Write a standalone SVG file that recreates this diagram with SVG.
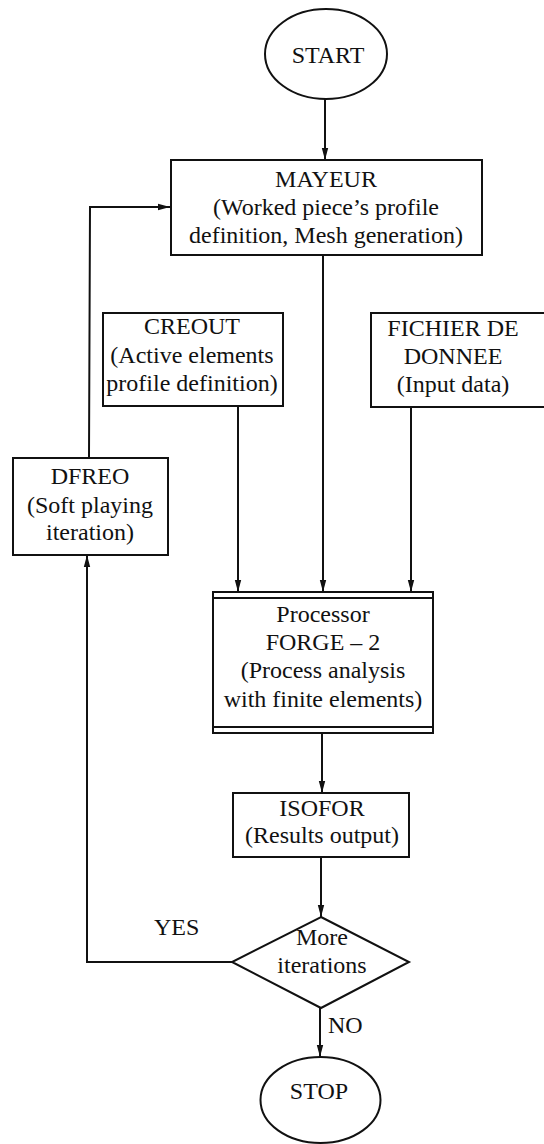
<svg xmlns="http://www.w3.org/2000/svg" width="544" height="1144" viewBox="0 0 544 1144">
<style>
.shape{fill:#fff;stroke:#111;stroke-width:2}
.line{fill:none;stroke:#111;stroke-width:2}
text{font-family:'Liberation Serif','DejaVu Serif',serif;font-size:24px;fill:#111}
.c{text-anchor:middle}
</style>
<defs>
<marker id="arr" markerUnits="userSpaceOnUse" markerWidth="12" markerHeight="8" viewBox="0 0 12 8" refX="12" refY="4" orient="auto">
<path d="M0,0.8 L12,4 L0,7.2 Z" fill="#111"/>
</marker>
</defs>
<rect width="544" height="1144" fill="#fff"/>
<g id="connectors">
<line class="line" x1="325" y1="99" x2="325" y2="160" marker-end="url(#arr)"/>
<line class="line" x1="323" y1="255" x2="323" y2="592" marker-end="url(#arr)"/>
<line class="line" x1="238" y1="406" x2="238" y2="592" marker-end="url(#arr)"/>
<line class="line" x1="411" y1="407" x2="411" y2="592" marker-end="url(#arr)"/>
<line class="line" x1="322" y1="733" x2="322" y2="793" marker-end="url(#arr)"/>
<line class="line" x1="321" y1="857" x2="321" y2="917" marker-end="url(#arr)"/>
<line class="line" x1="320" y1="1008" x2="320" y2="1057" marker-end="url(#arr)"/>
<polyline class="line" points="232,962 87,962 87,555" marker-end="url(#arr)"/>
<polyline class="line" points="89,458 90,207 170,207" marker-end="url(#arr)"/>
<text x="154" y="935" font-family="Liberation Serif, serif">YES</text>
<text x="328" y="1033" font-family="Liberation Serif, serif">NO</text>
</g>
<g id="start">
<ellipse class="shape" cx="326" cy="54" rx="61" ry="45"/>
<text class="c" x="328" y="63">START</text>
</g>
<g id="mayeur">
<rect class="shape" x="171" y="160" width="311" height="95"/>
<text class="c" x="326" y="187">MAYEUR</text>
<text class="c" x="326" y="215">(Worked piece’s profile</text>
<text class="c" x="326" y="243">definition, Mesh generation)</text>
</g>
<g id="creout">
<rect class="shape" x="103" y="313" width="180" height="93"/>
<text class="c" x="192" y="334">CREOUT</text>
<text class="c" x="192" y="363">(Active elements</text>
<text class="c" x="192" y="391">profile definition)</text>
</g>
<g id="fichier">
<rect class="shape" x="371" y="313" width="180" height="94"/>
<text class="c" x="453" y="336">FICHIER DE</text>
<text class="c" x="453" y="364">DONNEE</text>
<text class="c" x="453" y="392">(Input data)</text>
</g>
<g id="dfreo">
<rect class="shape" x="13" y="458" width="155" height="97"/>
<text class="c" x="90" y="484">DFREO</text>
<text class="c" x="90" y="513">(Soft playing</text>
<text class="c" x="90" y="540">iteration)</text>
</g>
<g id="processor">
<rect class="shape" x="213" y="592" width="220" height="141"/>
<line class="line" x1="213" y1="598" x2="433" y2="598"/>
<line class="line" x1="213" y1="727" x2="433" y2="727"/>
<text class="c" x="323" y="622">Processor</text>
<text class="c" x="323" y="650">FORGE – 2</text>
<text class="c" x="323" y="678">(Process analysis</text>
<text class="c" x="323" y="707">with finite elements)</text>
</g>
<g id="isofor">
<rect class="shape" x="233" y="793" width="176" height="64"/>
<text class="c" x="322" y="816">ISOFOR</text>
<text class="c" x="322" y="843">(Results output)</text>
</g>
<g id="decision">
<polygon class="shape" points="321,917 409,962 321,1008 232,962"/>
<text class="c" x="322" y="945">More</text>
<text class="c" x="322" y="973">iterations</text>
</g>
<g id="stop">
<ellipse class="shape" cx="320.5" cy="1100" rx="60" ry="43"/>
<text class="c" x="319" y="1099">STOP</text>
</g>
</svg>
